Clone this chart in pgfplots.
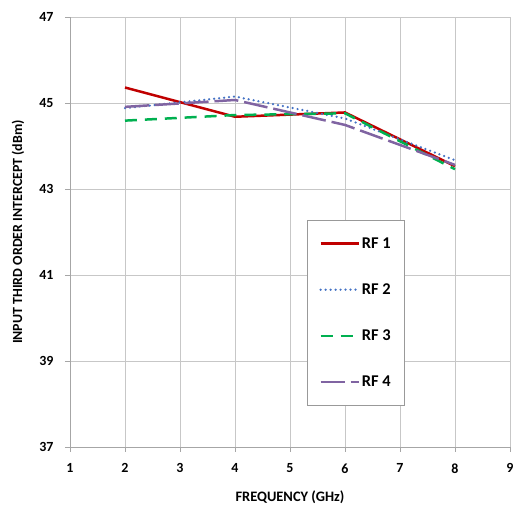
\documentclass[border=0pt]{standalone}
\usepackage{fontspec}
\setmainfont{Carlito}
\usepackage{pgfplots}
\pgfplotsset{compat=1.18}
\definecolor{rfred}{RGB}{192,0,0}
\definecolor{rfblue}{RGB}{68,114,196}
\definecolor{rfgreen}{RGB}{0,176,80}
\definecolor{rfpurple}{RGB}{128,100,162}
\begin{document}
\begin{tikzpicture}[x=1bp,y=1bp]
\begin{axis}[scale only axis,width=440bp,height=430bp,
 xmin=1,xmax=9,ymin=37,ymax=47,
 xtick={1,...,9},ytick={37,39,...,47},
 grid=major,grid style={black!22,line width=0.6pt},
 axis line style={black!35,line width=0.8pt},
 tick style={black!35,line width=0.8pt},tick align=outside,major tick length=5bp,
 axis x line*=bottom,axis y line*=left,
 /pgf/number format/assume math mode=true,
 tick label style={font=\fontsize{14}{16}\selectfont\bfseries},
 yticklabel style={xshift=-8bp},
 xticklabel style={yshift=-8bp},
 xlabel={FREQUENCY (GHz)},ylabel={INPUT THIRD ORDER INTERCEPT (dBm)},
 xlabel style={font=\fontsize{14.5}{16}\selectfont\bfseries,at={(axis description cs:0.5,0)},anchor=center,yshift=-50bp},
 ylabel style={font=\fontsize{14}{16}\selectfont\bfseries,at={(axis description cs:0,0.5)},anchor=center,rotate=0,yshift=52bp},
 legend style={at={(237bp,227bp)},anchor=north west,draw=black!40,line width=0.8pt,
  font=\fontsize{16.5}{18}\selectfont\bfseries,row sep=30bp,
  inner xsep=12bp,inner ysep=15bp,cells={anchor=west}},
 legend image code/.code={\draw[#1] (0bp,0bp) -- (38bp,0bp);}]
\addplot[rfred,line width=2.5pt] coordinates {(2,45.36) (4,44.68) (6,44.78) (8,43.53)};
\addplot[rfblue,line width=2.5pt,dash pattern=on 0pt off 5pt,line cap=round] coordinates {(2,44.88) (4,45.15) (6,44.64) (8,43.67)};
\addplot[rfgreen,line width=2.5pt,dash pattern=on 12pt off 8pt] coordinates {(2,44.59) (4,44.72) (6,44.76) (8,43.46)};
\addplot[rfpurple,line width=2.5pt,dash pattern=on 24pt off 6pt] coordinates {(2,44.91) (4,45.07) (6,44.49) (8,43.56)};
\legend{RF 1,RF 2,RF 3,RF 4}
\end{axis}
\pgfresetboundingbox
\path (-70bp,-61bp) rectangle (444bp,447bp);
\end{tikzpicture}
\end{document}
